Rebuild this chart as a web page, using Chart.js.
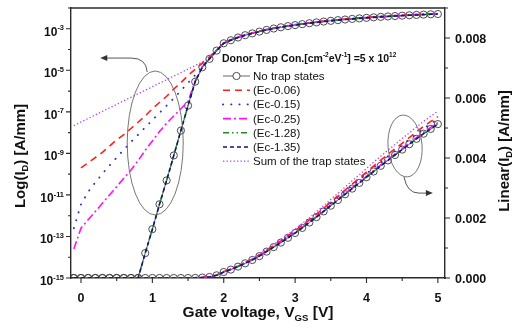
<!DOCTYPE html>
<html>
<head>
<meta charset="utf-8">
<title>Donor trap transfer curves</title>
<script src="https://cdn.jsdelivr.net/npm/chart.js@4.4.0/dist/chart.umd.min.js"></script>
<style>
  html, body { margin: 0; padding: 0; background: #fff; }
  #wrap { width: 515px; height: 333px; position: relative; }
</style>
</head>
<body>
<div id="wrap"><canvas id="chart"></canvas></div>
<script>
// gate voltage grid [V]
const volts = [-0.1, 0.0, 0.1, 0.2, 0.3, 0.4, 0.5, 0.6, 0.7, 0.8, 0.9,
  1.0, 1.1, 1.2, 1.3, 1.4, 1.5, 1.6, 1.7, 1.8, 1.9,
  2.0, 2.1, 2.2, 2.3, 2.4, 2.5, 2.6, 2.7, 2.8, 2.9,
  3.0, 3.1, 3.2, 3.3, 3.4, 3.5, 3.6, 3.7, 3.8, 3.9,
  4.0, 4.1, 4.2, 4.3, 4.4, 4.5, 4.6, 4.7, 4.8, 4.9, 5.0];

// drain current I_D [A/mm]
const noTrap = [1e-15, 1e-15, 1e-15, 1e-15, 1e-15, 1e-15, 1e-15, 1e-15, 1e-15, 1e-15,
  1.58e-14, 2.24e-13, 3.55e-12, 5.0e-11, 7.94e-10, 1.26e-8, 2.0e-7, 2.82e-6, 1.41e-5, 3.55e-5, 8.9e-5,
  2.0e-4, 2.8e-4, 3.8e-4, 4.9e-4, 6.0e-4, 7.3e-4, 8.8e-4, 1.03e-3, 1.18e-3, 1.34e-3,
  1.50e-3, 1.67e-3, 1.85e-3, 2.03e-3, 2.22e-3, 2.41e-3, 2.60e-3, 2.79e-3, 2.98e-3, 3.17e-3,
  3.36e-3, 3.55e-3, 3.74e-3, 3.92e-3, 4.10e-3, 4.28e-3, 4.46e-3, 4.64e-3, 4.81e-3, 4.97e-3, 5.13e-3];
const ec006 = [null, 2.0e-10, 3.55e-10, 6.31e-10, 1.12e-9, 2.24e-9, 4.47e-9, 7.94e-9, 1.58e-8, 3.16e-8,
  6.31e-8, 1.41e-7, 2.82e-7, 5.62e-7, 1.26e-6, 2.51e-6, 5.62e-6, 1.12e-5, 2.24e-5, 4.47e-5, 9.5e-5,
  2.1e-4, 3.0e-4, 3.9e-4, 5.1e-4, 6.3e-4, 7.7e-4, 9.3e-4, 1.08e-3, 1.24e-3, 1.41e-3,
  1.58e-3, 1.75e-3, 1.94e-3, 2.13e-3, 2.33e-3, 2.53e-3, 2.73e-3, 2.93e-3, 3.13e-3, 3.33e-3,
  3.53e-3, 3.73e-3, 3.93e-3, 4.12e-3, 4.31e-3, 4.49e-3, 4.68e-3, 4.87e-3, 5.05e-3, 5.22e-3, 5.38e-3];
const ec015 = [2.51e-13, 3.55e-12, 1.41e-11, 3.98e-11, 1.05e-10, 2.63e-10, 6.31e-10, 1.51e-9, 3.55e-9, 7.94e-9,
  1.78e-8, 3.98e-8, 8.91e-8, 2.0e-7, 4.47e-7, 1.05e-6, 2.51e-6, 5.89e-6, 1.5e-5, 3.7e-5, 9.2e-5,
  2.05e-4, 2.9e-4, 3.85e-4, 5.0e-4, 6.2e-4, 7.6e-4, 9.1e-4, 1.07e-3, 1.22e-3, 1.39e-3,
  1.55e-3, 1.73e-3, 1.91e-3, 2.10e-3, 2.30e-3, 2.49e-3, 2.69e-3, 2.89e-3, 3.08e-3, 3.28e-3,
  3.48e-3, 3.67e-3, 3.87e-3, 4.06e-3, 4.24e-3, 4.43e-3, 4.62e-3, 4.80e-3, 4.98e-3, 5.14e-3, 5.31e-3];
const ec025 = [2.51e-14, 2.51e-13, 6.31e-13, 1.58e-12, 3.98e-12, 1.0e-11, 2.51e-11, 6.31e-11, 1.58e-10, 4.47e-10,
  1.41e-9, 3.98e-9, 1.12e-8, 2.82e-8, 6.31e-8, 1.41e-7, 3.16e-7, 3.16e-6, 1.48e-5, 3.63e-5, 9.1e-5,
  2.0e-4, 2.85e-4, 3.85e-4, 4.95e-4, 6.05e-4, 7.4e-4, 8.9e-4, 1.04e-3, 1.19e-3, 1.35e-3,
  1.52e-3, 1.69e-3, 1.87e-3, 2.05e-3, 2.24e-3, 2.43e-3, 2.62e-3, 2.82e-3, 3.01e-3, 3.20e-3,
  3.39e-3, 3.58e-3, 3.77e-3, 3.96e-3, 4.14e-3, 4.32e-3, 4.50e-3, 4.68e-3, 4.86e-3, 5.02e-3, 5.18e-3];
const ec128 = [1e-15, 1e-15, 1e-15, 1e-15, 1e-15, 1e-15, 1e-15, 1e-15, 1e-15, 1e-15,
  1.6e-14, 2.3e-13, 3.6e-12, 5.1e-11, 8.0e-10, 1.27e-8, 2.0e-7, 2.85e-6, 1.42e-5, 3.56e-5, 8.9e-5,
  2.0e-4, 2.8e-4, 3.8e-4, 4.9e-4, 6.0e-4, 7.3e-4, 8.8e-4, 1.03e-3, 1.18e-3, 1.34e-3,
  1.50e-3, 1.67e-3, 1.85e-3, 2.03e-3, 2.22e-3, 2.41e-3, 2.60e-3, 2.79e-3, 2.98e-3, 3.17e-3,
  3.36e-3, 3.55e-3, 3.74e-3, 3.92e-3, 4.10e-3, 4.28e-3, 4.46e-3, 4.64e-3, 4.81e-3, 4.97e-3, 5.13e-3];
const ec135 = [1e-15, 1e-15, 1e-15, 1e-15, 1e-15, 1e-15, 1e-15, 1e-15, 1e-15, 1e-15,
  1.58e-14, 2.24e-13, 3.55e-12, 5.0e-11, 7.94e-10, 1.26e-8, 2.0e-7, 2.82e-6, 1.41e-5, 3.55e-5, 8.9e-5,
  2.0e-4, 2.8e-4, 3.8e-4, 4.9e-4, 6.0e-4, 7.3e-4, 8.8e-4, 1.03e-3, 1.18e-3, 1.34e-3,
  1.50e-3, 1.67e-3, 1.85e-3, 2.03e-3, 2.22e-3, 2.41e-3, 2.60e-3, 2.79e-3, 2.98e-3, 3.17e-3,
  3.36e-3, 3.55e-3, 3.74e-3, 3.92e-3, 4.10e-3, 4.28e-3, 4.46e-3, 4.64e-3, 4.81e-3, 4.97e-3, 5.13e-3];
const trapSum = [2.19e-8, 3.24e-8, 4.79e-8, 7.08e-8, 1.05e-7, 1.55e-7, 2.29e-7, 3.39e-7, 5.01e-7, 7.41e-7,
  1.10e-6, 1.62e-6, 2.40e-6, 3.55e-6, 5.25e-6, 7.76e-6, 1.15e-5, 1.70e-5, 2.51e-5, 3.8e-5, 9.6e-5,
  2.2e-4, 3.1e-4, 4.1e-4, 5.3e-4, 6.5e-4, 7.9e-4, 9.6e-4, 1.12e-3, 1.28e-3, 1.46e-3,
  1.63e-3, 1.82e-3, 2.01e-3, 2.21e-3, 2.41e-3, 2.62e-3, 2.82e-3, 3.03e-3, 3.24e-3, 3.44e-3,
  3.65e-3, 3.86e-3, 4.06e-3, 4.26e-3, 4.45e-3, 4.65e-3, 4.84e-3, 5.03e-3, 5.22e-3, 5.39e-3, 5.56e-3];

const seriesLabels = ['No trap states', '(Ec-0.06)', '(Ec-0.15)', '(Ec-0.25)', '(Ec-1.28)', '(Ec-1.35)', 'Sum of the trap states'];

// tick positions / labels
const xMajor = [0, 1, 2, 3, 4, 5];
const xMinor = [-0.5, 0.5, 1.5, 2.5, 3.5, 4.5];
const logDecades = [-15, -14, -13, -12, -11, -10, -9, -8, -7, -6, -5, -4, -3, -2];
const logLabelled = [-15, -13, -11, -9, -7, -5, -3];
const linMajor = [0, 0.002, 0.004, 0.006, 0.008];
const linMinor = [0.001, 0.003, 0.005, 0.007, 0.009];
const linLabels = ['0.000', '0.002', '0.004', '0.006', '0.008'];

const FAM = "'Liberation Sans', Arial, Helvetica, sans-serif";
const AX = '#2a2a2a';

const styles = [
  { color: '#555555', dash: [], width: 0.9, points: true, order: 20 },
  { color: '#ff1f1f', dash: [7, 5], width: 1.6, order: 4 },
  { color: '#2a2ad8', dash: [0.2, 8], width: 1.9, order: 5, cap: 'round' },
  { color: '#ff10ff', dash: [8, 3, 2, 3], width: 1.6, order: 3 },
  { color: '#228b22', dash: [6, 3, 1.5, 3, 1.5, 3], width: 1.4, order: 2 },
  { color: '#12127a', dash: [4, 3], width: 1.6, order: 1 },
  { color: '#b040ff', dash: [1.3, 2.2], width: 1.3, order: 6 }
];
const seriesData = [noTrap, ec006, ec015, ec025, ec128, ec135, trapSum];

const datasets = [];
['yLog', 'yLin'].forEach(axis => {
  seriesData.forEach((arr, k) => {
    const st = styles[k];
    datasets.push({
      label: seriesLabels[k],
      yAxisID: axis,
      data: volts.map((v, i) => ({ x: v, y: arr[i] })),
      borderColor: st.color,
      borderWidth: st.width,
      borderDash: st.dash,
      borderCapStyle: st.cap || 'butt',
      pointRadius: st.points ? 3.6 : 0,
      pointBorderWidth: 0.9,
      pointBorderColor: '#3a3a3a',
      pointBackgroundColor: 'rgba(255,255,255,0)',
      pointStyle: 'circle',
      fill: false,
      tension: 0,
      spanGaps: false,
      order: st.order
    });
  });
});

function drawRich(ctx, parts, x, y, size, weight, align) {
  const small = size * 0.62;
  let w = 0;
  const segs = parts.map(p => {
    const t = typeof p === 'string' ? p : p[0];
    const k = typeof p === 'string' ? '' : p[1];
    const fs = k ? small : size;
    ctx.font = `${weight} ${fs}px ${FAM}`;
    const mw = ctx.measureText(t).width;
    w += mw;
    return { t, k, fs, mw };
  });
  let cx = align === 'center' ? x - w / 2 : align === 'right' ? x - w : x;
  ctx.textAlign = 'left';
  ctx.textBaseline = 'alphabetic';
  segs.forEach(s => {
    ctx.font = `${weight} ${s.fs}px ${FAM}`;
    const dy = s.k === 'sup' ? -size * 0.45 : s.k === 'sub' ? size * 0.25 : 0;
    ctx.fillText(s.t, cx, y + dy);
    cx += s.mw;
  });
}

function arrowHead(ctx, tx, ty, dir) {
  ctx.beginPath();
  ctx.moveTo(tx, ty);
  ctx.lineTo(tx - dir * 7, ty - 3);
  ctx.lineTo(tx - dir * 7, ty + 3);
  ctx.closePath();
  ctx.fill();
}

const decor = {
  id: 'decor',
  afterDraw(chart) {
    const { ctx, chartArea: ca, scales } = chart;
    const sx = scales.x, sl = scales.yLog, sr = scales.yLin;
    ctx.save();
    ctx.strokeStyle = AX;
    ctx.fillStyle = '#111';
    ctx.lineWidth = 1.4;
    // top frame
    ctx.beginPath();
    ctx.moveTo(ca.left, ca.top);
    ctx.lineTo(ca.right, ca.top);
    ctx.stroke();

    ctx.lineWidth = 1.1;
    ctx.beginPath();
    xMajor.forEach(v => { const p = sx.getPixelForValue(v); ctx.moveTo(p, ca.bottom); ctx.lineTo(p, ca.bottom + 5); });
    xMinor.forEach(v => { const p = sx.getPixelForValue(v); if (p < ca.left) return; ctx.moveTo(p, ca.bottom); ctx.lineTo(p, ca.bottom + 3); });
    logDecades.forEach(e => {
      const p = sl.getPixelForValue(Math.pow(10, e));
      const len = logLabelled.includes(e) ? 5 : 3;
      ctx.moveTo(ca.left, p); ctx.lineTo(ca.left - len, p);
    });
    linMajor.forEach(v => { const p = sr.getPixelForValue(v); ctx.moveTo(ca.right, p); ctx.lineTo(ca.right + 5, p); });
    linMinor.forEach(v => { const p = sr.getPixelForValue(v); ctx.moveTo(ca.right, p); ctx.lineTo(ca.right + 3, p); });
    ctx.stroke();

    // tick labels
    xMajor.forEach(v => drawRich(ctx, [String(v)], sx.getPixelForValue(v), ca.bottom + 24, 12.5, 'bold', 'center'));
    logLabelled.forEach(e => {
      const p = sl.getPixelForValue(Math.pow(10, e));
      drawRich(ctx, ['10', [String(e), 'sup']], 64, p + 7, 12, 'bold', 'right');
    });
    linMajor.forEach((v, i) => drawRich(ctx, [linLabels[i]], 455, sr.getPixelForValue(v) + 4.5, 12.5, 'bold', 'left'));

    // axis titles
    drawRich(ctx, ['Gate voltage, V', ['GS', 'sub'], ' [V]'], (ca.left + ca.right) / 2, 317, 15.5, 'bold', 'center');
    ctx.save();
    ctx.translate(19, 156);
    ctx.rotate(-Math.PI / 2);
    drawRich(ctx, ['Log(I', ['D', 'sub'], ') [A/mm]'], 0, 5.5, 15, 'bold', 'center');
    ctx.restore();
    ctx.save();
    ctx.translate(503, 151);
    ctx.rotate(-Math.PI / 2);
    drawRich(ctx, ['Linear(I', ['D', 'sub'], ') [A/mm]'], 0, 5.5, 15, 'bold', 'center');
    ctx.restore();

    // legend
    drawRich(ctx, ['Donor Trap Con.[cm', ['-2', 'sup'], 'eV', ['-1', 'sup'], '] =5 x 10', ['12', 'sup']], 222, 62, 10.5, 'bold', 'left');
    seriesLabels.forEach((lab, k) => {
      const st = styles[k];
      const y = 76 + k * 14.2;
      ctx.save();
      ctx.strokeStyle = st.color;
      ctx.lineWidth = st.width;
      ctx.setLineDash(st.dash);
      ctx.lineCap = st.cap || 'butt';
      ctx.beginPath();
      ctx.moveTo(223, y); ctx.lineTo(250, y);
      ctx.stroke();
      if (st.points) {
        ctx.setLineDash([]);
        ctx.strokeStyle = '#3a3a3a';
        ctx.lineWidth = 0.9;
        ctx.fillStyle = '#fff';
        ctx.beginPath();
        ctx.arc(236.5, y, 3.6, 0, Math.PI * 2);
        ctx.fill();
        ctx.stroke();
      }
      ctx.restore();
      ctx.fillStyle = '#111';
      drawRich(ctx, [lab], 253, y + 4, 11.5, 'normal', 'left');
    });

    // ellipses and arrows
    ctx.strokeStyle = '#666';
    ctx.fillStyle = '#333';
    ctx.lineWidth = 0.9;
    ctx.setLineDash([]);
    const lx = sx.getPixelForValue(1.04), ly = sl.getPixelForValue(Math.pow(10, -8.5));
    ctx.beginPath();
    ctx.ellipse(lx, ly, 28, 72, 0, 0, Math.PI * 2);
    ctx.stroke();
    const ltx = sx.getPixelForValue(0.27), lty = sl.getPixelForValue(Math.pow(10, -4.41));
    ctx.strokeStyle = '#444';
    ctx.beginPath();
    ctx.moveTo(lx - 8, ly - 71);
    ctx.quadraticCurveTo(lx - 9, lty, lx - 24, lty);
    ctx.lineTo(ltx + 6, lty);
    ctx.stroke();
    arrowHead(ctx, ltx, lty, -1);

    const rx = sx.getPixelForValue(4.54), ry = sr.getPixelForValue(0.0044);
    ctx.strokeStyle = '#666';
    ctx.beginPath();
    ctx.ellipse(rx, ry, 17, 31, -0.08, 0, Math.PI * 2);
    ctx.stroke();
    const rtx = sx.getPixelForValue(4.93), rty = sr.getPixelForValue(0.00283);
    ctx.strokeStyle = '#444';
    ctx.beginPath();
    ctx.moveTo(rx - 1, ry + 31);
    ctx.quadraticCurveTo(rx + 2, rty, rtx - 14, rty);
    ctx.lineTo(rtx - 6, rty);
    ctx.stroke();
    arrowHead(ctx, rtx, rty, 1);
    ctx.restore();
  }
};

const hiddenTicks = { display: false };
const noGrid = { display: false };
const border = { display: true, color: AX, width: 1.4 };

new Chart(document.getElementById('chart'), {
  type: 'line',
  data: { datasets },
  options: {
    responsive: true,
    maintainAspectRatio: false,
    animation: false,
    layout: { padding: { top: 8, left: 0, right: 0, bottom: 0 } },
    plugins: { legend: { display: false }, tooltip: { enabled: false } },
    scales: {
      x: { type: 'linear', min: -0.14, max: 5.1, ticks: hiddenTicks, grid: noGrid, border,
        afterFit(s) { s.height = 55; } },
      yLog: { type: 'logarithmic', position: 'left', min: 1e-15, max: 1e-2, ticks: hiddenTicks, grid: noGrid, border,
        afterFit(s) { s.width = 71; } },
      yLin: { type: 'linear', position: 'right', min: 0, max: 0.009, ticks: hiddenTicks, grid: noGrid, border,
        afterFit(s) { s.width = 70; } }
    }
  },
  plugins: [decor]
});
</script>
</body>
</html>
